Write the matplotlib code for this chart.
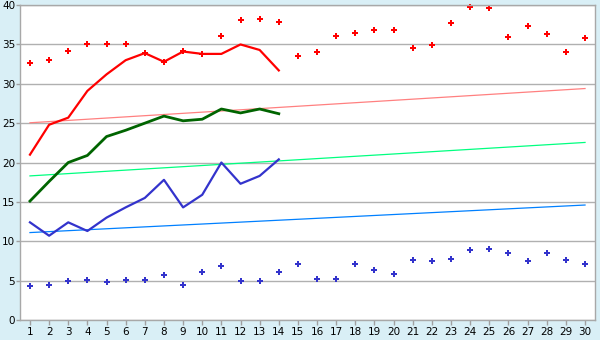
import matplotlib

matplotlib.use("Agg")
from matplotlib import pyplot

days = list(range(1, 31))
line_days = list(range(1, 15))

red_line = [21.0, 24.8, 25.7, 29.1, 31.2, 33.0, 33.9, 32.8, 34.1, 33.8, 33.8, 35.0, 34.3, 31.7]
green_line = [15.1, 17.6, 20.0, 20.9, 23.3, 24.1, 25.0, 25.9, 25.3, 25.5, 26.8, 26.3, 26.8, 26.2]
blue_line = [12.4, 10.7, 12.4, 11.3, 13.0, 14.3, 15.5, 17.8, 14.3, 15.9, 20.0, 17.3, 18.3, 20.4]

red_points = [32.7, 33.0, 34.2, 35.1, 35.1, 35.0, 33.9, 32.8, 34.2, 33.8,
              36.1, 38.05, 38.2, 37.9, 33.5, 34.0, 36.1, 36.4, 36.9, 36.8,
              34.6, 34.9, 37.7, 39.8, 39.6, 35.9, 37.4, 36.3, 34.0, 35.8]
blue_points = [4.3, 4.4, 4.9, 5.1, 4.8, 5.1, 5.1, 5.7, 4.4, 6.05,
               6.8, 5.0, 5.0, 6.05, 7.1, 5.2, 5.2, 7.1, 6.4, 5.8,
               7.6, 7.45, 7.8, 8.85, 8.95, 8.45, 7.45, 8.45, 7.6, 7.1]

trend_days = [1, 30]
red_trend = [25.05, 29.4]
green_trend = [18.3, 22.55]
blue_trend = [11.1, 14.6]

figure = pyplot.figure(figsize=(6, 3.4), dpi=100, facecolor="#d9eff6")
axis = figure.add_axes([0.034, 0.059, 0.957, 0.926])
axis.set_facecolor("white")

axis.plot(trend_days, red_trend, color="#ff8080", linewidth=0.9)
axis.plot(trend_days, green_trend, color="#00ff80", linewidth=0.9)
axis.plot(trend_days, blue_trend, color="#0080ff", linewidth=0.9)

axis.plot(line_days, red_line, color="#ff0000", linewidth=1.6)
axis.plot(line_days, green_line, color="#006400", linewidth=2.0)
axis.plot(line_days, blue_line, color="#3333cc", linewidth=1.6)

axis.plot(days, red_points, linestyle="none", marker="P", markersize=4.8,
          color="#ff0000", markeredgewidth=0, clip_on=False)
axis.plot(days, blue_points, linestyle="none", marker="P", markersize=4.8,
          color="#3333cc", markeredgewidth=0, clip_on=False)

axis.set_xlim(0.5, 30.5)
axis.set_ylim(0, 40)
axis.set_xticks(days)
axis.set_yticks(range(0, 41, 5))
axis.yaxis.grid(True, color="#b0b0b0", linewidth=1.0)
axis.set_axisbelow(True)
axis.tick_params(colors="#a0a0a0", labelcolor="black", labelsize=7.5, width=1)
axis.tick_params(axis="x", length=3.6, pad=1.5)
axis.tick_params(axis="y", length=2.9, pad=0.8)
for spine in axis.spines.values():
    spine.set_color("#a8a8a8")
    spine.set_linewidth(1.0)

figure.savefig("out.png", dpi=100, facecolor=figure.get_facecolor())
pyplot.close(figure)
